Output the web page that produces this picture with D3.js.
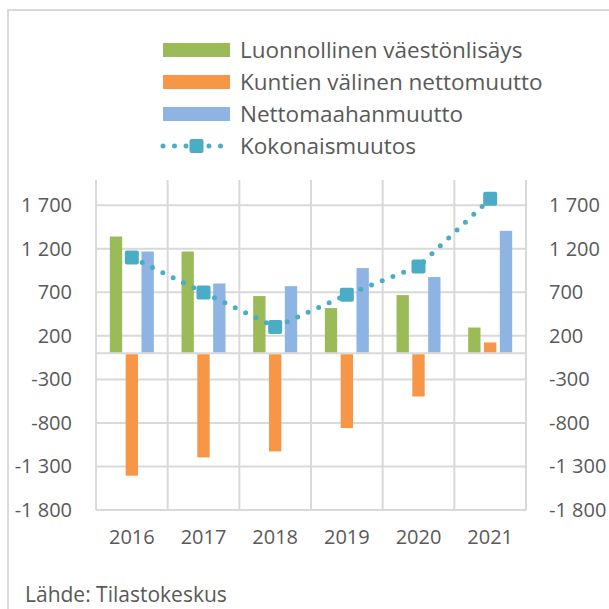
<!DOCTYPE html>
<html>
<head>
<meta charset="utf-8">
<script src="https://cdn.jsdelivr.net/npm/d3@7"></script>
<style>
  html, body { margin: 0; padding: 0; background: #fff; }
  text { font-family: "Open Sans", sans-serif; fill: #595959; }
</style>
</head>
<body>
<div id="chart"></div>
<script>
const years = ["2016", "2017", "2018", "2019", "2020", "2021"]
const seriesNames = ["Luonnollinen väestönlisäys", "Kuntien välinen nettomuutto", "Nettomaahanmuutto"]
const natural = [1341, 1169, 657, 519, 668, 296]
const municipal = [-1406, -1196, -1127, -859, -496, 124]
const immigration = [1169, 801, 771, 978, 875, 1406]
const totalName = "Kokonaismuutos"
const total = [1100, 698, 301, 672, 997, 1774]
const tickValues = [-1800, -1300, -800, -300, 200, 700, 1200, 1700]
const sourceText = "Lähde: Tilastokeskus"

const colors = ["#9BBB59", "#F79646", "#8EB4E3"]
const lineColor = "#4BACC6"
const gridColor = "#D9D9D9"

const width = 609, height = 609
const svg = d3.select("#chart").append("svg")
  .attr("width", width)
  .attr("height", height)

// chart frame (right and bottom lie outside the picture)
svg.append("rect")
  .attr("x", 8).attr("y", 10)
  .attr("width", 700).attr("height", 700)
  .attr("fill", "none")
  .attr("stroke", gridColor)
  .attr("stroke-width", 2)

const plot = { left: 96, right: 526, top: 180, bottom: 510 }

const y = d3.scaleLinear().domain([-1800, 1990]).range([plot.bottom, plot.top])
const x0 = d3.scaleBand().domain(years).range([plot.left, plot.right])
const x1 = d3.scaleBand().domain(seriesNames).range([-22, 22]).paddingInner(0.22)

// excel style: space as thousands separator, plain hyphen for minus
const fmt = v => (v < 0 ? "-" : "") + d3.format(",")(Math.abs(v)).replace(",", " ")

// horizontal gridlines
svg.append("g").selectAll("line")
  .data(tickValues.concat([0]))
  .join("line")
  .attr("x1", plot.left).attr("x2", plot.right)
  .attr("y1", d => y(d)).attr("y2", d => y(d))
  .attr("stroke", gridColor).attr("stroke-width", 2)

// vertical gridlines at category borders
svg.append("g").selectAll("line")
  .data(years.map(d => x0(d)).concat([plot.right]))
  .join("line")
  .attr("x1", d => d).attr("x2", d => d)
  .attr("y1", plot.top).attr("y2", plot.bottom)
  .attr("stroke", gridColor).attr("stroke-width", 2)

// bars
const seriesData = [natural, municipal, immigration]
seriesData.forEach((vals, si) => {
  svg.append("g").selectAll("rect")
    .data(vals.map((v, i) => ({ year: years[i], value: v })))
    .join("rect")
    .attr("x", d => x0(d.year) + x0.bandwidth() / 2 + x1(seriesNames[si]))
    .attr("width", x1.bandwidth())
    .attr("y", d => d.value >= 0 ? y(d.value) : y(0) + 1)
    .attr("height", d => Math.abs(y(d.value) - y(0)) - 1)
    .attr("fill", colors[si])
})

// total line
const cx = d => x0(d) + x0.bandwidth() / 2
const lineData = total.map((v, i) => ({ year: years[i], value: v }))
svg.append("path")
  .datum(lineData)
  .attr("d", d3.line().x(d => cx(d.year)).y(d => y(d.value)))
  .attr("fill", "none")
  .attr("stroke", lineColor)
  .attr("stroke-width", 5)
  .attr("stroke-linecap", "round")
  .attr("stroke-dasharray", "0,11.5")

svg.append("g").selectAll("rect")
  .data(lineData)
  .join("rect")
  .attr("x", d => cx(d.year) - 7)
  .attr("y", d => y(d.value) - 7)
  .attr("width", 14).attr("height", 14)
  .attr("rx", 2)
  .attr("fill", lineColor)

// axes
const fontSize = 20
const leftAxis = svg.append("g").attr("transform", `translate(${plot.left},0)`)
  .call(d3.axisLeft(y).tickValues(tickValues).tickFormat(fmt).tickSize(0).tickPadding(24))
const rightAxis = svg.append("g").attr("transform", `translate(${plot.right},0)`)
  .call(d3.axisRight(y).tickValues(tickValues).tickFormat(fmt).tickSize(0).tickPadding(23))
const bottomAxis = svg.append("g").attr("transform", `translate(0,${plot.bottom})`)
  .call(d3.axisBottom(x0).tickSize(0).tickPadding(20))
;[leftAxis, rightAxis, bottomAxis].forEach(a => {
  a.select(".domain").remove()
  a.selectAll("text")
    .attr("font-size", fontSize)
    .attr("font-family", "'Open Sans', sans-serif")
    .attr("fill", "#595959")
})

// legend
const legendSize = 22.5
const legend = svg.append("g")
seriesNames.forEach((name, i) => {
  const ly = 50 + i * 32
  legend.append("rect")
    .attr("x", 163).attr("y", ly - 7)
    .attr("width", 67).attr("height", 14)
    .attr("fill", colors[i])
  legend.append("text")
    .attr("x", 240).attr("y", ly)
    .attr("dy", "0.35em")
    .attr("font-size", legendSize)
    .text(name)
})
const lly = 50 + 3 * 32
legend.append("line")
  .attr("x1", 163).attr("x2", 230)
  .attr("y1", lly).attr("y2", lly)
  .attr("stroke", lineColor).attr("stroke-width", 5)
  .attr("stroke-linecap", "round")
  .attr("stroke-dasharray", "0,11.5")
legend.append("rect")
  .attr("x", 189.5).attr("y", lly - 7)
  .attr("width", 14).attr("height", 14)
  .attr("rx", 2)
  .attr("fill", lineColor)
legend.append("text")
  .attr("x", 240).attr("y", lly)
  .attr("dy", "0.35em")
  .attr("font-size", legendSize)
  .text(totalName)

// source
svg.append("text")
  .attr("x", 25).attr("y", 595)
  .attr("dy", "0.35em")
  .attr("font-size", 21)
  .text(sourceText)
</script>
</body>
</html>
